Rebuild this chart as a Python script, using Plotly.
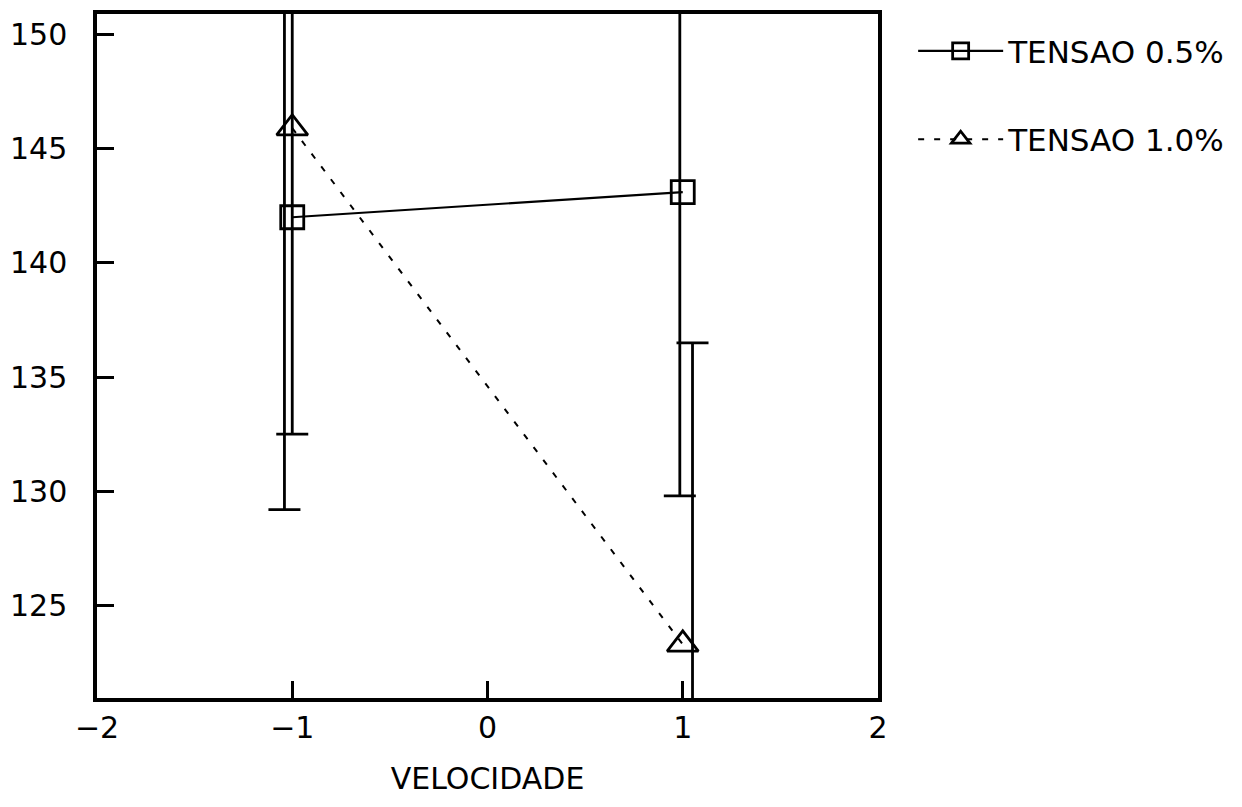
import plotly.graph_objects as go

# Data
velocidade = [-1, 1]
tensao_05 = [142.0, 143.1]
tensao_10 = [145.9, 123.3]

# error bars (drawn slightly offset in x, as in the reference)
err_x_05 = [-1.0, 0.985]
err_plus_05 = [9.5, 13.3]
err_minus_05 = [9.5, 13.3]
err_x_10 = [-1.04, 1.05]
err_plus_10 = [16.7, 13.2]
err_minus_10 = [16.7, 13.2]

x_ticks = [-2, -1, 0, 1, 2]
y_ticks = [125, 130, 135, 140, 145, 150]

FONT = "DejaVu Sans"

fig = go.Figure()

# error bars
fig.add_trace(go.Scatter(
    x=err_x_05, y=tensao_05, mode="markers",
    marker=dict(size=1, opacity=0),
    error_y=dict(type="data", array=err_plus_05, arrayminus=err_minus_05,
                 color="black", thickness=2.8, width=16, symmetric=False),
    showlegend=False, hoverinfo="skip"))
fig.add_trace(go.Scatter(
    x=err_x_10, y=tensao_10, mode="markers",
    marker=dict(size=1, opacity=0),
    error_y=dict(type="data", array=err_plus_10, arrayminus=err_minus_10,
                 color="black", thickness=2.8, width=16, symmetric=False),
    showlegend=False, hoverinfo="skip"))

# series
fig.add_trace(go.Scatter(
    x=velocidade, y=tensao_05, mode="lines+markers", name="TENSAO 0.5%",
    line=dict(color="black", width=2.2),
    marker=dict(symbol="square-open", size=23, color="black",
                line=dict(color="black", width=2.8)),
    legendgroup="a"))
fig.add_trace(go.Scatter(
    x=velocidade, y=tensao_10, mode="lines+markers", name="TENSAO 1.0%",
    line=dict(color="black", width=2, dash="6px,10px"),
    marker=dict(symbol="triangle-up-open", size=27, color="black",
                line=dict(color="black", width=2.8)),
    legendgroup="b"))

fig.update_layout(
    width=1242, height=807,
    margin=dict(l=97, r=364, t=10, b=109),
    paper_bgcolor="white", plot_bgcolor="white",
    font=dict(family=FONT, size=30, color="black"),
    showlegend=True,
    legend=dict(x=1.045, y=0.985, xanchor="left", yanchor="top",
                font=dict(family=FONT, size=31, color="black"),
                tracegroupgap=45, itemwidth=85, bgcolor="rgba(0,0,0,0)"),
)
fig.update_xaxes(
    range=[-2, 2], tickvals=x_ticks, ticktext=["−2", "−1", "0", "1", "2"],
    ticks="inside", ticklen=17, tickwidth=2.5, tickcolor="black",
    showline=True, linewidth=3.5, linecolor="black", mirror=True,
    showgrid=False, zeroline=False,
    tickfont=dict(family=FONT, size=30),
    title=dict(text="VELOCIDADE", font=dict(family=FONT, size=30), standoff=25),
)
fig.update_yaxes(
    range=[120.95, 150.9], tickvals=y_ticks,
    ticks="inside", ticklen=17, tickwidth=2.5, tickcolor="black",
    showline=True, linewidth=3.5, linecolor="black", mirror=True,
    showgrid=False, zeroline=False,
    tickfont=dict(family=FONT, size=30), ticklabelstandoff=20,
)

fig.write_html("out.html")
